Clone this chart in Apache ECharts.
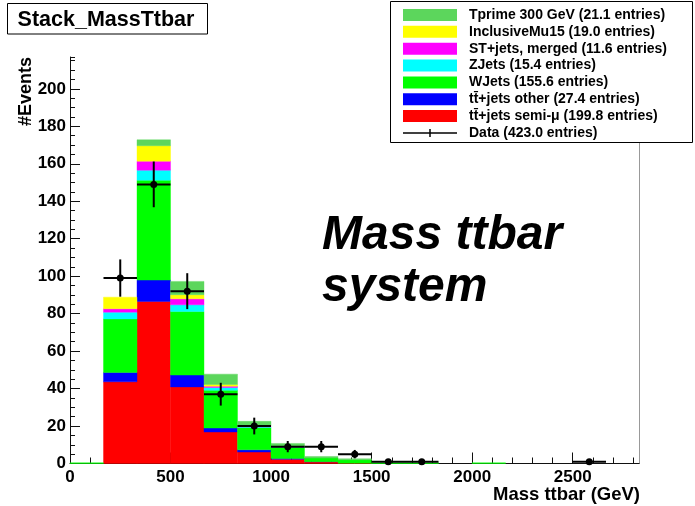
<!DOCTYPE html>
<html>
<head>
<meta charset="utf-8">
<title>Stack_MassTtbar</title>
<script src="https://cdn.jsdelivr.net/npm/echarts@6/dist/echarts.min.js"></script>
<style>
  html, body { margin: 0; padding: 0; background: #fff; }
  #chart { width: 695px; height: 506px; }
</style>
</head>
<body>
<div id="chart"></div>
<script>
// Histogram binning: 17 equal bins over the mass range
const binCount = 17;
const xMax = 2832;
const yMax = 217;
const binWidth = xMax / binCount;

// Stacked MC contributions per bin (events), bottom of the stack first
const semiMu  = [0, 43.6, 86.5, 40.9, 16.8, 6.1, 2.3, 0.9, 0.2, 0, 0, 0, 0, 0, 0, 0, 0];
const ttOther = [0, 5.0, 11.4, 6.3, 2.1, 1.2, 0.4, 0.1, 0, 0, 0, 0, 0, 0, 0, 0, 0];
const wJets   = [0.4, 28.6, 53.3, 33.9, 20.2, 11.9, 6.0, 1.9, 1.8, 0.4, 0.4, 0, 0.4, 0, 0, 0, 0];
const zJets   = [0, 3.6, 5.4, 3.6, 1.5, 0.3, 0.1, 0, 0, 0, 0, 0, 0, 0, 0, 0, 0];
const stJets  = [0, 1.8, 4.8, 3.2, 0.7, 0.3, 0.1, 0, 0, 0, 0, 0, 0, 0, 0, 0, 0];
const incMu   = [0, 6.2, 8.2, 2.2, 0.9, 0.1, 0, 0, 0, 0, 0, 0, 0, 0, 0, 0, 0];
const tprime  = [0, 0, 3.2, 7.1, 5.5, 2.6, 1.8, 0.85, 0.5, 0, 0, 0, 0, 0, 0, 0, 0];

// Observed counts per bin
const dataCounts = [0, 99, 149, 92, 37, 20, 9, 9, 5, 1, 1, 0, 0, 0, 0, 1, 0];

// Legend labels
const labelSemiMu  = 'tt\u0304+jets semi-\u03bc (199.8 entries)';
const labelTtOther = 'tt\u0304+jets other (27.4 entries)';
const labelWJets   = 'WJets (155.6 entries)';
const labelZJets   = 'ZJets (15.4 entries)';
const labelSt      = 'ST+jets, merged (11.6 entries)';
const labelIncMu   = 'InclusiveMu15 (19.0 entries)';
const labelTprime  = 'Tprime 300 GeV (21.1 entries)';
const labelData    = 'Data (423.0 entries)';

const FONT = '"Liberation Sans", Arial, Helvetica, sans-serif';

const stack = [
  { name: labelSemiMu,  values: semiMu,  color: '#ff0000' },
  { name: labelTtOther, values: ttOther, color: '#0000ff' },
  { name: labelWJets,   values: wJets,   color: '#00ff00' },
  { name: labelZJets,   values: zJets,   color: '#00ffff' },
  { name: labelSt,      values: stJets,  color: '#ff00ff' },
  { name: labelIncMu,   values: incMu,   color: '#ffff00' },
  { name: labelTprime,  values: tprime,  color: '#5cd65c' }
];

// Build [lo, hi, base, top] rows for each stacked component
const cumulative = new Array(binCount).fill(0);
const stackSeries = stack.map(function (comp) {
  const rows = comp.values.map(function (v, i) {
    const base = cumulative[i];
    cumulative[i] += v;
    return [i * binWidth, (i + 1) * binWidth, base, base + v];
  });
  return {
    type: 'custom',
    name: comp.name,
    xAxisIndex: 0,
    yAxisIndex: 0,
    itemStyle: { color: comp.color },
    encode: { x: [0, 1], y: [2, 3] },
    data: rows,
    z: 2,
    renderItem: function (params, api) {
      const lo = api.value(0), hi = api.value(1), b = api.value(2), t = api.value(3);
      if (t - b <= 0) return null;
      const p0 = api.coord([lo, b]);
      const p1 = api.coord([hi, t]);
      return {
        type: 'rect',
        shape: { x: p0[0], y: p1[1], width: p1[0] - p0[0], height: p0[1] - p1[1] },
        style: { fill: comp.color, stroke: comp.color, lineWidth: 0.4 }
      };
    }
  };
});

// Data points: bin centre, count; error bars are +-sqrt(N) and the bin half-width
const dataRows = [];
dataCounts.forEach(function (n, i) {
  if (n > 0) dataRows.push([(i + 0.5) * binWidth, n]);
});

const dataSeries = {
  type: 'custom',
  name: labelData,
  xAxisIndex: 0,
  yAxisIndex: 0,
  itemStyle: { color: '#000' },
  encode: { x: 0, y: 1 },
  data: dataRows,
  z: 5,
  renderItem: function (params, api) {
    const c = api.value(0), n = api.value(1);
    const err = Math.sqrt(n);
    const left = api.coord([c - binWidth / 2, n]);
    const right = api.coord([c + binWidth / 2, n]);
    const top = api.coord([c, n + err]);
    const bot = api.coord([c, Math.max(0, n - err)]);
    const ctr = api.coord([c, n]);
    return {
      type: 'group',
      children: [
        { type: 'line', shape: { x1: left[0], y1: left[1], x2: right[0], y2: right[1] },
          style: { stroke: '#000', lineWidth: 2 } },
        { type: 'line', shape: { x1: top[0], y1: top[1], x2: bot[0], y2: bot[1] },
          style: { stroke: '#000', lineWidth: 2 } },
        { type: 'circle', shape: { cx: ctr[0], cy: ctr[1], r: 3.5 },
          style: { fill: '#000' } }
      ]
    };
  }
};

// Legend entries, top to bottom
const legendEntries = [
  { name: labelTprime,  color: '#5cd65c', kind: 'box' },
  { name: labelIncMu,   color: '#ffff00', kind: 'box' },
  { name: labelSt,      color: '#ff00ff', kind: 'box' },
  { name: labelZJets,   color: '#00ffff', kind: 'box' },
  { name: labelWJets,   color: '#00ff00', kind: 'box' },
  { name: labelTtOther, color: '#0000ff', kind: 'box' },
  { name: labelSemiMu,  color: '#ff0000', kind: 'box' },
  { name: labelData,    color: '#000000', kind: 'marker' }
];

const legendGraphics = [
  { type: 'rect', z: 8, shape: { x: 390.5, y: 1.5, width: 302, height: 141 },
    style: { fill: '#fff', stroke: '#000', lineWidth: 1 } }
];
legendEntries.forEach(function (e, i) {
  const cy = 15 + i * 16.85;
  if (e.kind === 'box') {
    legendGraphics.push({ type: 'rect', z: 9,
      shape: { x: 403, y: cy - 6, width: 54, height: 12 },
      style: { fill: e.color } });
  } else {
    legendGraphics.push({ type: 'line', z: 9,
      shape: { x1: 403, y1: cy, x2: 457, y2: cy },
      style: { stroke: e.color, lineWidth: 1.5 } });
    legendGraphics.push({ type: 'line', z: 9,
      shape: { x1: 430, y1: cy - 4, x2: 430, y2: cy + 4 },
      style: { stroke: e.color, lineWidth: 1.5 } });
  }
  legendGraphics.push({ type: 'text', z: 9, x: 469, y: cy,
    style: { text: e.name, font: 'bold 14px ' + FONT, fill: '#000',
             align: 'left', verticalAlign: 'middle' } });
});

const tickLabel = {
  fontSize: 17, fontWeight: 'bold', color: '#000', fontFamily: FONT,
  showMaxLabel: false,
  formatter: function (v) { return String(v); }
};

const chart = echarts.init(document.getElementById('chart'), null, { renderer: 'canvas' });

chart.setOption({
  animation: false,
  backgroundColor: '#fff',
  grid: { left: 70, top: 57, width: 569.5, height: 406.5, containLabel: false },
  xAxis: [
    {
      type: 'value', min: 0, max: xMax, interval: 500, position: 'bottom',
      axisLine: { show: true, lineStyle: { color: '#111', width: 1 } },
      axisTick: { show: true, inside: true, length: 11, lineStyle: { color: '#111' } },
      axisLabel: Object.assign({ margin: 5 }, tickLabel),
      splitLine: { show: false }
    },
    {
      type: 'value', min: 0, max: xMax, interval: 100, position: 'bottom',
      axisLine: { show: false },
      axisTick: { show: true, inside: true, length: 6, lineStyle: { color: '#111' } },
      axisLabel: { show: false },
      splitLine: { show: false }
    }
  ],
  yAxis: [
    {
      type: 'value', min: 0, max: yMax, interval: 20, position: 'left',
      axisLine: { show: true, lineStyle: { color: '#111', width: 1 } },
      axisTick: { show: true, inside: true, length: 10, lineStyle: { color: '#111' } },
      axisLabel: Object.assign({ margin: 4 }, tickLabel),
      splitLine: { show: false }
    },
    {
      type: 'value', min: 0, max: yMax, interval: 5, position: 'left',
      axisLine: { show: false },
      axisTick: { show: true, inside: true, length: 5, lineStyle: { color: '#111' } },
      axisLabel: { show: false },
      splitLine: { show: false }
    }
  ],
  graphic: [
    // frame: right edge
    { type: 'line', z: 1, shape: { x1: 639.5, y1: 57, x2: 639.5, y2: 463.5 },
      style: { stroke: '#999', lineWidth: 1 } },
    // title box
    { type: 'rect', z: 8, shape: { x: 7.5, y: 3.5, width: 200, height: 30.5 },
      style: { fill: '#fff', stroke: '#000', lineWidth: 1 } },
    { type: 'text', z: 9, x: 106, y: 20.5,
      style: { text: 'Stack_MassTtbar', font: 'bold 21.5px ' + FONT, fill: '#000',
               align: 'center', verticalAlign: 'middle' } },
    // axis titles
    { type: 'text', z: 9, x: 26, y: 57, rotation: Math.PI / 2,
      style: { text: '#Events', font: 'bold 18px ' + FONT, fill: '#000',
               align: 'right', verticalAlign: 'middle' } },
    { type: 'text', z: 9, x: 640, y: 495,
      style: { text: 'Mass ttbar (GeV)', font: 'bold 18.5px ' + FONT, fill: '#000',
               align: 'right', verticalAlign: 'middle' } },
    // annotation
    { type: 'text', z: 9, x: 322, y: 235.5,
      style: { text: 'Mass ttbar', font: 'italic bold 48px ' + FONT, fill: '#000',
               align: 'left', verticalAlign: 'middle' } },
    { type: 'text', z: 9, x: 322, y: 288,
      style: { text: 'system', font: 'italic bold 48px ' + FONT, fill: '#000',
               align: 'left', verticalAlign: 'middle' } }
  ].concat(legendGraphics),
  series: stackSeries.concat([dataSeries])
});
</script>
</body>
</html>
